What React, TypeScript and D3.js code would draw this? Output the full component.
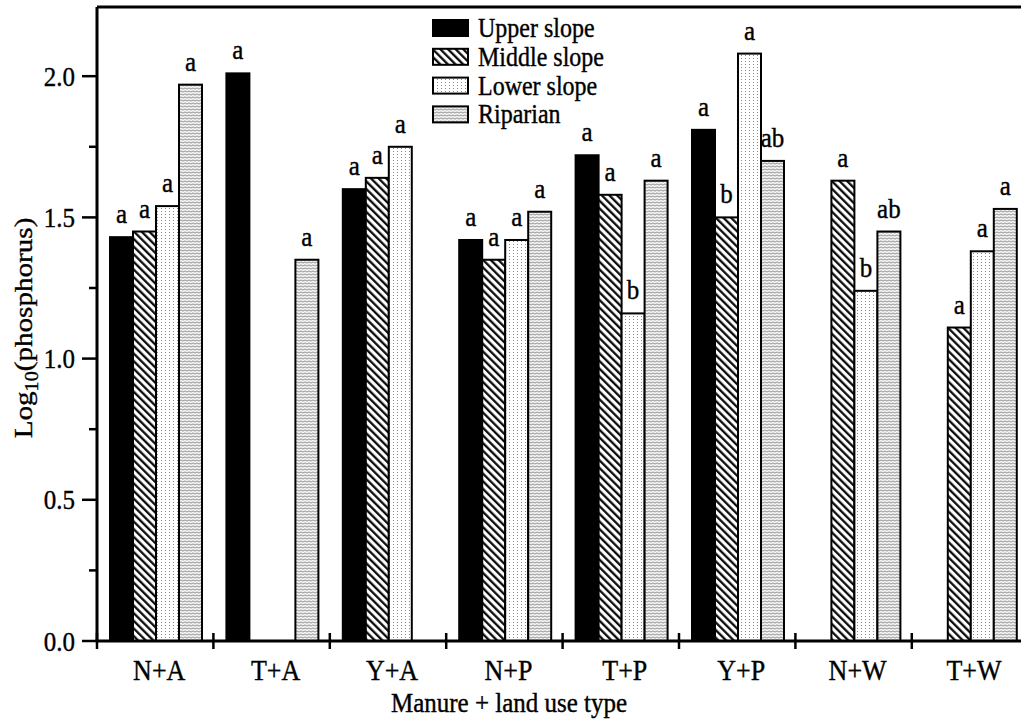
import React from 'react';
import * as d3 from 'd3';

const categories = ['N+A', 'T+A', 'Y+A', 'N+P', 'T+P', 'Y+P', 'N+W', 'T+W'];
const seriesNames = ['Upper slope', 'Middle slope', 'Lower slope', 'Riparian'];

const upperSlope = [1.43, 2.01, 1.6, 1.42, 1.72, 1.81, null, null];
const middleSlope = [1.45, null, 1.64, 1.35, 1.58, 1.5, 1.63, 1.11];
const lowerSlope = [1.54, null, 1.75, 1.42, 1.16, 2.08, 1.24, 1.38];
const riparian = [1.97, 1.35, null, 1.52, 1.63, 1.7, 1.45, 1.53];

const upperLetters = ['a', 'a', 'a', 'a', 'a', 'a', '', ''];
const middleLetters = ['a', '', 'a', 'a', 'a', 'b', 'a', 'a'];
const lowerLetters = ['a', '', 'a', 'a', 'b', 'a', 'b', 'a'];
const riparianLetters = ['a', 'a', '', 'a', 'a', 'ab', 'ab', 'a'];

const yMajorTicks = [0, 0.5, 1.0, 1.5, 2.0];
const yMinorTicks = [0.25, 0.75, 1.25, 1.75];

const seriesValues = [upperSlope, middleSlope, lowerSlope, riparian];
const seriesLetters = [upperLetters, middleLetters, lowerLetters, riparianLetters];
const fills = ['#000', 'url(#hatch)', 'url(#dots)', 'url(#waves)'];

const FONT = "'Liberation Serif', 'Times New Roman', serif";
const STRETCH = 1.12; // the source figure is a bit taller than wide

// text placed at (x, y) and stretched vertically like the source scan
function T({ x, y, size, anchor = 'start', dy, children }: any) {
  return (
    <g transform={`translate(${x},${y}) scale(1,${STRETCH})`}>
      <text x={0} y={0} dy={dy} textAnchor={anchor} fontSize={size} fontFamily={FONT}
        fill="#000" stroke="#000" strokeWidth={0.35}>{children}</text>
    </g>
  );
}

export default function App() {
  const width = 1021;
  const height = 727;
  const left = 97;
  const top = 7;
  const bottom = 641;
  const step = 116.4;

  const x = d3.scaleBand<string>()
    .domain(categories)
    .range([left, left + step * categories.length])
    .padding(0);

  const slot = d3.scaleBand<string>()
    .domain(seriesNames)
    .range([13, 13 + 92])
    .padding(0);

  const y = d3.scaleLinear().domain([0, 2.245]).range([bottom, top]);

  const bars: React.ReactNode[] = [];
  const labels: React.ReactNode[] = [];
  categories.forEach((cat, ci) => {
    seriesNames.forEach((s, si) => {
      const v = seriesValues[si][ci];
      if (v == null) return;
      const bx = (x(cat) as number) + (slot(s) as number);
      const bw = slot.bandwidth();
      bars.push(
        <rect key={`b-${ci}-${si}`} x={bx} y={y(v)} width={bw} height={y(0) - y(v)}
          fill={fills[si]} stroke="#000" strokeWidth={2} />
      );
      const letter = seriesLetters[si][ci];
      if (letter) {
        labels.push(
          <T key={`l-${ci}-${si}`} x={bx + bw / 2} y={y(v) - 14} size={25} anchor="middle">{letter}</T>
        );
      }
    });
  });

  return (
    <svg width={width} height={height}
      style={{ position: 'absolute', left: 0, top: 0, background: '#fff' }}>
      <defs>
        <pattern id="hatch" width={5.4} height={5.4} patternUnits="userSpaceOnUse" patternTransform="rotate(-45)">
          <rect width={5.4} height={5.4} fill="#fff" />
          <line x1={1.2} y1={0} x2={1.2} y2={5.4} stroke="#000" strokeWidth={2.2} />
        </pattern>
        <pattern id="dots" width={4} height={3} patternUnits="userSpaceOnUse">
          <rect width={4} height={3} fill="#fff" />
          <rect x={1} y={1} width={1} height={1} fill="#8a8a8a" />
        </pattern>
        <pattern id="waves" width={4} height={3} patternUnits="userSpaceOnUse">
          <rect width={4} height={3} fill="#f4f4f4" />
          <path d="M0,1.5 Q1,0.3 2,1.5 T4,1.5" fill="none" stroke="#666" strokeWidth={0.7} />
        </pattern>
      </defs>

      {bars}
      {labels}

      {/* frame */}
      <line x1={left} x2={width + 10} y1={top} y2={top} stroke="#000" strokeWidth={3} />
      <line x1={left} x2={left} y1={top} y2={bottom} stroke="#000" strokeWidth={3} />
      <line x1={left - 1.5} x2={width + 10} y1={bottom} y2={bottom} stroke="#000" strokeWidth={3} />

      {/* y ticks */}
      {yMajorTicks.map(t => (
        <g key={`ym-${t}`}>
          <line x1={left - 15} x2={left} y1={y(t)} y2={y(t)} stroke="#000" strokeWidth={2.5} />
          <T x={75} y={y(t)} dy="0.34em" size={25} anchor="end">{t.toFixed(1)}</T>
        </g>
      ))}
      {yMinorTicks.map(t => (
        <line key={`yn-${t}`} x1={left - 8} x2={left} y1={y(t)} y2={y(t)} stroke="#000" strokeWidth={2.5} />
      ))}

      {/* x ticks at category boundaries */}
      {categories.map(c => (
        <line key={`xt-${c}`} x1={x(c)} x2={x(c)} y1={bottom - 8} y2={bottom + 8} stroke="#000" strokeWidth={2.5} />
      ))}
      {categories.map(c => (
        <T key={`xl-${c}`} x={(x(c) as number) + x.bandwidth() / 2 + 4} y={680} size={26} anchor="middle">{c}</T>
      ))}

      {/* axis titles */}
      <T x={509} y={712} size={25} anchor="middle">Manure + land use type</T>
      <g transform={`translate(32,328) scale(1,${STRETCH}) rotate(-90)`}>
        <text textAnchor="middle" fontSize={26} fontFamily={FONT} stroke="#000" strokeWidth={0.35}>
          Log<tspan fontSize={18} dy={6}>10</tspan><tspan dy={-6}>(phosphorus)</tspan>
        </text>
      </g>

      {/* legend */}
      {seriesNames.map((s, i) => (
        <g key={`lg-${s}`}>
          <rect x={433} y={20 + i * 28.8} width={35} height={16} fill={fills[i]} stroke="#000" strokeWidth={2} />
          <T x={478} y={37 + i * 28.8} size={24}>{s}</T>
        </g>
      ))}
    </svg>
  );
}
